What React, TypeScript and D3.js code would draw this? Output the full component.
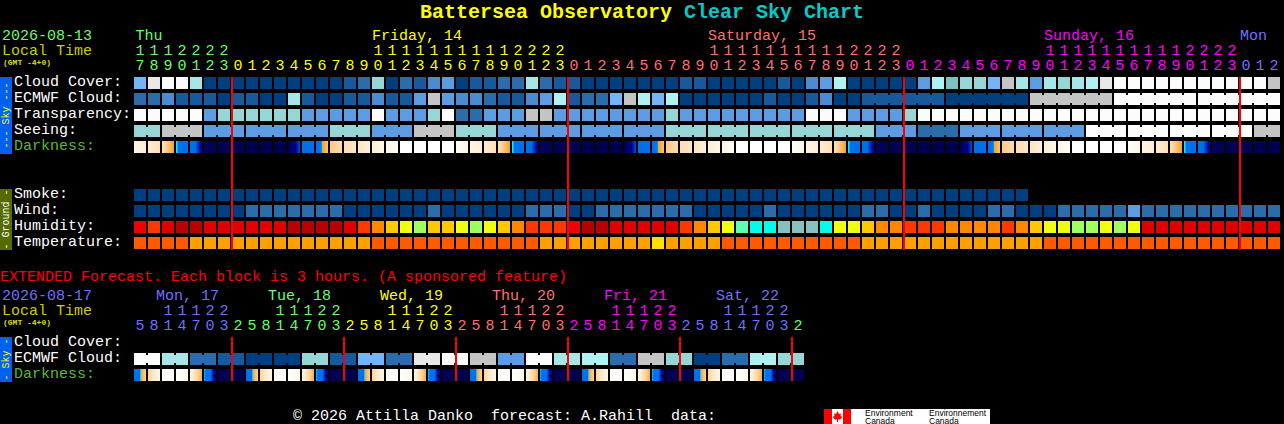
import React, { useEffect, useRef } from 'react';
import * as d3 from 'd3';

const WIDTH = 1284;
const HEIGHT = 424;
const MONO = '"Liberation Mono", monospace';

// cloud style levels, 0 = clear dark blue .. 12 = overcast white
const cloudPalette = ['#003f7f', '#165a9b', '#2c6cab', '#4c8bd0', '#5d9ce3', '#74b4f8', '#7fc0c0', '#96d6d6', '#a6e6e6', '#b0f2f2', '#c4c4c4', '#e8e8e8', '#fcfcfc'];
const windPalette = ['#003f7f', '#2c6cab', '#5d9ce3'];
const humidityPalette = ['#b80000', '#e00000', '#f00000', '#ff3800', '#ff8800', '#ffc800', '#f0ff10', '#a0ff60', '#60ffb0', '#00ffe8', '#88c0c0'];
const temperaturePalette = ['#ff5a00', '#ffa000', '#ffe000'];

const mainHours = [17, 18, 19, 20, 21, 22, 23,
  0, 1, 2, 3, 4, 5, 6, 7, 8, 9, 10, 11, 12, 13, 14, 15, 16, 17, 18, 19, 20, 21, 22, 23,
  0, 1, 2, 3, 4, 5, 6, 7, 8, 9, 10, 11, 12, 13, 14, 15, 16, 17, 18, 19, 20, 21, 22, 23,
  0, 1, 2, 3, 4, 5, 6, 7, 8, 9, 10, 11, 12, 13, 14, 15, 16, 17, 18, 19, 20, 21, 22, 23,
  0, 1, 2];
const mainDaySpans = [7, 24, 24, 24, 3];
const mainDayColors = ['#66ff66', '#ffff00', '#ff7070', '#ff00ff', '#7070ff'];
const mainDayLabels = ['Thu', 'Friday, 14', 'Saturday, 15', 'Sunday, 16', 'Mon'];
const mainDayLabelCells = [0.1, 17, 41, 65, 79];
const mainMidnights = [7, 31, 55, 79];

const cloudCover = [5, 11, 12, 12, 8, 0, 0, 0, 0, 0, 0, 0, 0, 0, 0, 1, 2, 7, 0, 2, 1,
  3, 4, 0, 1, 1, 2, 2, 8, 2, 1, 1, 0, 0, 0, 0, 0, 0, 0, 1, 1, 0, 0, 0, 0, 0, 1, 0, 3, 4, 9, 0,
  0, 0, 0, 0, 4, 9, 6, 7, 7, 5, 10, 8, 4, 8, 7, 8, 9, 11, 12, 12, 12, 12, 12, 12, 12, 12, 12, 12, 12, 10];
const ecmwfCloud = [2, 2, 3, 1, 1, 1, 0, 1, 1, 0, 0, 8, 1, 0, 0, 1, 1, 3, 1, 1, 4,
  10, 4, 3, 3, 2, 1, 1, 3, 4, 9, 1, 2, 2, 5, 10, 9, 5, 9, 0, 0, 0, 0, 0, 0, 1, 0, 0, 1, 3, 0, 0,
  1, 1, 1, 1, 1, 1, 0, 0, 0, 0, 0, 0, 10, 10, 10, 10, 10, 10, 12, 12, 12, 12, 12, 12, 12, 12, 12, 12, 12, 12];
const ecmwfBlocks = [1, 1, 1, 1, 1, 1, 1, 1, 1, 1, 1, 1, 1, 1, 1, 1, 1, 1, 1, 1, 1, 1, 1, 1, 1, 1,
  1, 1, 1, 1, 1, 1, 1, 1, 1, 1, 1, 1, 1, 1, 1, 1, 1, 1, 1, 1, 1, 1, 1, 1, 1, 1, 6, 6, 6, 6, 6];
const transparency = [12, 12, 12, 12, 12, 4, 7, 7, 7, 7, 7, 7, 4, 4, 4, 4, 4, 12, 4, 4, 4,
  7, 12, 2, 2, 4, 4, 4, 10, 10, 4, 4, 4, 4, 4, 4, 4, 4, 7, 4, 4, 4, 4, 4, 4, 4, 4, 4, 12, 12, 12, 4,
  4, 4, 4, 7, 12, 12, 12, 12, 12, 12, 12, 12, 12, 12, 12, 12, 12, 12, 12, 12, 12, 12, 12, 12, 12, 12, 12, 12, 12, 12];
const seeing = [7, 7, 10, 10, 10, 4, 4, 4, 4, 4, 4, 4, 4, 4, 7, 7, 7, 4, 4, 4, 10, 10, 10,
  7, 7, 7, 4, 4, 4, 4, 4, 4, 4, 4, 4, 4, 4, 4, 7, 7, 7, 7, 7, 7, 7, 7, 7, 7, 7, 7, 7, 7, 7,
  4, 4, 4, 2, 2, 2, 4, 4, 4, 4, 4, 4, 4, 4, 4, 12, 12, 12, 12, 12, 12, 12, 12, 12, 12, 12, 12, 10, 10];
const seeingBlocks = [2, 3, 3, 3, 3, 3, 3, 3, 3, 3, 3, 3, 3, 3, 3, 3, 3, 3, 3, 3, 3, 3, 3, 3, 3, 3, 3, 2];

// darkness at the left and right edge of each block, 0 = full sun, 1 = dark sky
const darknessFrom = [
  .15, .28, .38, .60, .72, .95, 1, 1, 1, 1, 1, 1, .80, .72, .48, .40, .32, .25, .15, 0, 0, 0, 0, .03,
  .15, .28, .38, .60, .72, .95, 1, 1, 1, 1, 1, 1, .80, .72, .48, .40, .32, .25, .15, 0, 0, 0, 0, .03,
  .15, .28, .38, .60, .72, .95, 1, 1, 1, 1, 1, 1, .80, .72, .48, .40, .32, .25, .15, 0, 0, 0, 0, .03,
  .15, .28, .38, .60, .72, .95, 1, 1, 1, 1];
const darknessTo = [
  .28, .38, .60, .72, .90, 1, 1, 1, 1, 1, 1, .82, .72, .50, .40, .32, .25, .15, .03, 0, 0, 0, 0, .15,
  .28, .38, .60, .72, .90, 1, 1, 1, 1, 1, 1, .82, .72, .50, .40, .32, .25, .15, .03, 0, 0, 0, 0, .15,
  .28, .38, .60, .72, .90, 1, 1, 1, 1, 1, 1, .82, .72, .50, .40, .32, .25, .15, .03, 0, 0, 0, 0, .15,
  .28, .38, .60, .72, .90, 1, 1, 1, 1, 1];

const smoke = [0, 0, 0, 0, 0, 0, 0, 0, 0, 0, 0, 0, 0, 0, 0, 0, 0, 0, 0, 0, 0, 0, 0, 0, 0, 0, 0, 0, 0, 0, 0, 0,
  0, 0, 0, 0, 0, 0, 0, 0, 0, 0, 0, 0, 0, 0, 0, 0, 0, 0, 0, 0, 0, 0, 0, 0, 0, 0, 0, 0, 0, 0, 0, 0];
const wind = [0, 0, 0, 0, 0, 0, 0, 0, 1, 1, 1, 1, 1, 1, 1, 0, 0, 0, 0, 0, 0,
  1, 0, 0, 0, 0, 0, 0, 1, 1, 1, 0, 0, 1, 1, 1, 1, 1, 1, 1, 0, 0, 0, 0, 0, 1, 0, 0, 0, 0, 0, 0,
  1, 1, 0, 0, 1, 0, 0, 0, 0, 1, 1, 0, 0, 0, 1, 1, 1, 1, 1, 2, 1, 1, 1, 1, 1, 1, 1, 1, 1, 1];
const humidity = [2, 3, 1, 0, 0, 1, 1, 1, 1, 1, 1, 0, 0, 0, 0, 1, 3, 4, 5, 6, 7,
  5, 5, 6, 7, 6, 5, 4, 3, 3, 3, 2, 0, 0, 1, 1, 1, 1, 1, 3, 4, 5, 6, 8, 9, 9, 10, 10, 10, 9, 6, 6,
  5, 4, 4, 3, 3, 3, 4, 4, 4, 4, 3, 4, 5, 6, 6, 7, 7, 6, 7, 6, 1, 1, 1, 1, 1, 1, 1, 1, 1, 1];
const temperature = [0, 0, 0, 0, 1, 1, 1, 1, 1, 1, 1, 1, 1, 1, 1, 1, 1, 0, 0, 0, 0,
  0, 0, 0, 0, 0, 0, 0, 0, 1, 1, 1, 1, 1, 1, 1, 1, 2, 1, 1, 1, 1, 0, 0, 0, 0, 0, 0, 0, 0, 0, 0,
  1, 1, 1, 1, 1, 1, 1, 1, 1, 1, 1, 1, 1, 0, 0, 0, 0, 0, 0, 0, 0, 0, 0, 0, 0, 0, 0, 0, 0, 0];

const extHours = [5, 8, 11, 14, 17, 20, 23,
  2, 5, 8, 11, 14, 17, 20, 23,
  2, 5, 8, 11, 14, 17, 20, 23,
  2, 5, 8, 11, 14, 17, 20, 23,
  2, 5, 8, 11, 14, 17, 20, 23,
  2, 5, 8, 11, 14, 17, 20, 23,
  2];
const extDaySpans = [7, 8, 8, 8, 8, 8, 1];
const extDayColors = ['#7070ff', '#66ff66', '#ffff00', '#ff7070', '#ff00ff', '#7070ff', '#66ff66'];
const extDayLabels = ['Mon, 17', 'Tue, 18', 'Wed, 19', 'Thu, 20', 'Fri, 21', 'Sat, 22'];
const extDayLabelCells = [1.57, 9.57, 17.57, 25.57, 33.57, 41.57];
const extMidnights = [7, 15, 23, 31, 39, 47];
const extCloud = [12, 12, 8, 8, 2, 2, 1, 1, 0, 0, 0, 0, 7, 7, 1, 1, 5, 5, 2, 2, 11, 11, 12, 12,
  10, 10, 4, 4, 12, 12, 8, 8, 9, 9, 2, 2, 10, 10, 7, 7, 0, 0, 2, 2, 9, 9, 7, 7];
const extBlocks = [2, 2, 2, 2, 2, 2, 2, 2, 2, 2, 2, 2, 2, 2, 2, 2, 2, 2, 2, 2, 2, 2, 2, 2];
const extDarkFrom = [.80, .45, .05, 0, .20, .60, 1, 1,
  .80, .45, .05, 0, .20, .60, 1, 1,
  .80, .45, .05, 0, .20, .60, 1, 1,
  .80, .45, .05, 0, .20, .60, 1, 1,
  .80, .45, .05, 0, .20, .60, 1, 1,
  .80, .45, .05, 0, .20, .60, 1, 1];
const extDarkTo = [.45, .15, 0, .12, .58, .95, 1, 1,
  .45, .15, 0, .12, .58, .95, 1, 1,
  .45, .15, 0, .12, .58, .95, 1, 1,
  .45, .15, 0, .12, .58, .95, 1, 1,
  .45, .15, 0, .12, .58, .95, 1, 1,
  .45, .15, 0, .12, .58, .95, 1, 1];

const CELL_W = 12;
const CELL_H = 12;

// pixel columns inside a darkness block take their colour from this ramp
const darkColor = d3.scaleLinear<string>()
  .domain([0, .1, .25, .4, .5, .6, .605, .625, .8, .88, .96, 1])
  .range(['#ffffff', '#fff8ee', '#ffeed8', '#ffdcb0', '#ffc478', '#ffa020', '#00f0ff', '#0070f0', '#0070e8', '#0000a0', '#000058', '#000050'])
  .clamp(true);

const App: React.FC = () => {
  const svgRef = useRef<SVGSVGElement>(null);

  useEffect(() => {
    if (!svgRef.current) return;
    const svg = d3.select(svgRef.current);
    svg.selectAll('*').remove();

    const x = d3.scaleLinear().domain([0, 1]).range([134, 148]);

    svg.append('rect').attr('width', WIDTH).attr('height', HEIGHT).attr('fill', '#000');

    const text = (s: string, tx: number, ty: number, fill: string, size = 15, weight = 'normal') =>
      svg.append('text')
        .attr('x', tx)
        .attr('y', ty)
        .attr('fill', fill)
        .attr('font-family', MONO)
        .attr('font-size', size)
        .attr('font-weight', weight)
        .style('white-space', 'pre')
        .text(s);

    // plain row, optionally with connectors inside each block
    const drawRow = (values: number[], palette: string[], y: number, blocks?: number[]) => {
      const g = svg.append('g').attr('shape-rendering', 'crispEdges');
      g.selectAll('rect.cell')
        .data(values)
        .join('rect')
        .attr('class', 'cell')
        .attr('x', (_, i) => x(i))
        .attr('y', y)
        .attr('width', CELL_W)
        .attr('height', CELL_H)
        .attr('fill', d => palette[d]);
      if (!blocks) return;
      let start = 0;
      blocks.forEach(size => {
        d3.range(start, start + size - 1).forEach(i => {
          g.append('rect')
            .attr('x', x(i) + CELL_W)
            .attr('y', y + 2)
            .attr('width', x(1) - x(0) - CELL_W)
            .attr('height', CELL_H - 4)
            .attr('fill', palette[values[i]]);
        });
        start += size;
      });
    };

    const drawDarkness = (from: number[], to: number[], y: number) => {
      const g = svg.append('g').attr('shape-rendering', 'crispEdges');
      from.forEach((d, i) => {
        const mix = d3.interpolateNumber(d, to[i]);
        g.selectAll(null)
          .data(d3.range(CELL_W))
          .join('rect')
          .attr('x', c => x(i) + c)
          .attr('y', y)
          .attr('width', 1)
          .attr('height', CELL_H)
          .attr('fill', c => darkColor(mix((c + .5) / CELL_W)));
      });
    };

    const drawHours = (hours: number[], spans: number[], colors: string[], tensY: number, unitsY: number) => {
      const ends = Array.from(d3.cumsum(spans));
      hours.forEach((h, i) => {
        const fill = colors[d3.bisectRight(ends, i)];
        const cx = x(i) + CELL_W / 2;
        if (h >= 10) text(String(Math.floor(h / 10)), cx, tensY, fill).attr('text-anchor', 'middle');
        text(String(h % 10), cx, unitsY, fill).attr('text-anchor', 'middle');
      });
    };

    const drawTab = (label: string, y0: number, y1: number, fill: string, ink: string) => {
      svg.append('rect').attr('x', 0).attr('y', y0).attr('width', 12).attr('height', y1 - y0).attr('fill', fill);
      text(label, 0, 0, ink, 10)
        .attr('text-anchor', 'middle')
        .attr('transform', `translate(9,${(y0 + y1) / 2}) rotate(-90)`);
    };

    const drawMidnights = (cells: number[], y0: number, y1: number) => {
      svg.append('g').selectAll('rect')
        .data(cells)
        .join('rect')
        .attr('x', d => x(d) - 1)
        .attr('y', y0)
        .attr('width', 2)
        .attr('height', y1 - y0)
        .attr('fill', '#ff0000')
        .attr('shape-rendering', 'crispEdges');
    };

    // title
    const title = text('Battersea Observatory', 420, 18, '#ffff00', 20, 'bold');
    title.append('tspan').attr('fill', '#00cccc').text(' Clear Sky Chart');

    // main header
    text('2026-08-13', 2, 40, '#66ff66');
    text('Local Time', 2, 55, '#cccc00');
    text('(GMT -4+0)', 3, 65, '#dddd00', 8, 'bold');
    mainDayLabels.forEach((s, i) => {
      text(s, x(mainDayLabelCells[i]), 40, mainDayColors[i]);
    });
    drawHours(mainHours, mainDaySpans, mainDayColors, 55, 70);

    // main sky rows
    drawTab('--- Sky ---', 77, 154, '#0060f0', '#ffff00');
    text('Cloud Cover:', 14, 86, '#fff');
    text('ECMWF Cloud:', 14, 102, '#fff');
    text('Transparency:', 14, 118, '#fff');
    text('Seeing:', 14, 134, '#fff');
    text('Darkness:', 14, 150, '#55bb33');
    drawRow(cloudCover, cloudPalette, 77);
    drawRow(ecmwfCloud, cloudPalette, 93, ecmwfBlocks);
    drawRow(transparency, cloudPalette, 109);
    drawRow(seeing, cloudPalette, 125, seeingBlocks);
    drawDarkness(darknessFrom, darknessTo, 141);

    // ground rows
    drawTab('- Ground -', 189, 250, '#556b00', '#ffffff');
    text('Smoke:', 14, 198, '#fff');
    text('Wind:', 14, 214, '#fff');
    text('Humidity:', 14, 230, '#fff');
    text('Temperature:', 14, 246, '#fff');
    drawRow(smoke, windPalette, 189);
    drawRow(wind, windPalette, 205);
    drawRow(humidity, humidityPalette, 221);
    drawRow(temperature, temperaturePalette, 237);
    drawMidnights(mainMidnights, 77, 250);

    // extended forecast
    text('EXTENDED Forecast. Each block is 3 hours. (A sponsored feature)', 0, 281, '#ff0000');
    text('2026-08-17', 2, 300, '#7070ff');
    text('Local Time', 2, 315, '#cccc00');
    text('(GMT -4+0)', 3, 325, '#dddd00', 8, 'bold');
    extDayLabels.forEach((s, i) => {
      text(s, x(extDayLabelCells[i]), 300, extDayColors[i]);
    });
    drawHours(extHours, extDaySpans, extDayColors, 315, 330);
    drawTab('- Sky -', 337, 382, '#0060f0', '#ffff00');
    text('Cloud Cover:', 14, 346, '#fff');
    text('ECMWF Cloud:', 14, 362, '#fff');
    text('Darkness:', 14, 378, '#55bb33');
    drawRow(extCloud, cloudPalette, 353, extBlocks);
    drawDarkness(extDarkFrom, extDarkTo, 369);
    drawMidnights(extMidnights, 337, 381);

    // footer
    text('\u00a9 2026 Attilla Danko  forecast: A.Rahill  data:', 293, 419.5, '#fff');
    const logo = svg.append('g').attr('transform', 'translate(824,409)');
    logo.append('rect').attr('width', 166).attr('height', 15).attr('fill', '#fff');
    logo.append('rect').attr('width', 8).attr('height', 15).attr('fill', '#f00');
    logo.append('rect').attr('x', 19).attr('width', 8).attr('height', 15).attr('fill', '#f00');
    logo.append('path')
      .attr('d', 'M13.5 2 L15 5 L17 4.5 L16.5 7 L18.5 8 L16 10.5 L14 10.5 L14 13 L13 13 L13 10.5 L11 10.5 L8.5 8 L10.5 7 L10 4.5 L12 5 Z')
      .attr('fill', '#f00');
    [['Environment', 'Canada', 41], ['Environnement', 'Canada', 105]].forEach(([a, b, lx]) => {
      [a, b].forEach((s, i) => {
        logo.append('text')
          .attr('x', lx as number)
          .attr('y', 7 + i * 7.5)
          .attr('fill', '#000')
          .attr('font-family', '"Liberation Sans", sans-serif')
          .attr('font-size', 8.5)
          .text(s as string);
      });
    });
  }, []);

  return (
    <svg
      ref={svgRef}
      width={WIDTH}
      height={HEIGHT}
      style={{ position: 'absolute', left: 0, top: 0, display: 'block' }}
    />
  );
};

export default App;
